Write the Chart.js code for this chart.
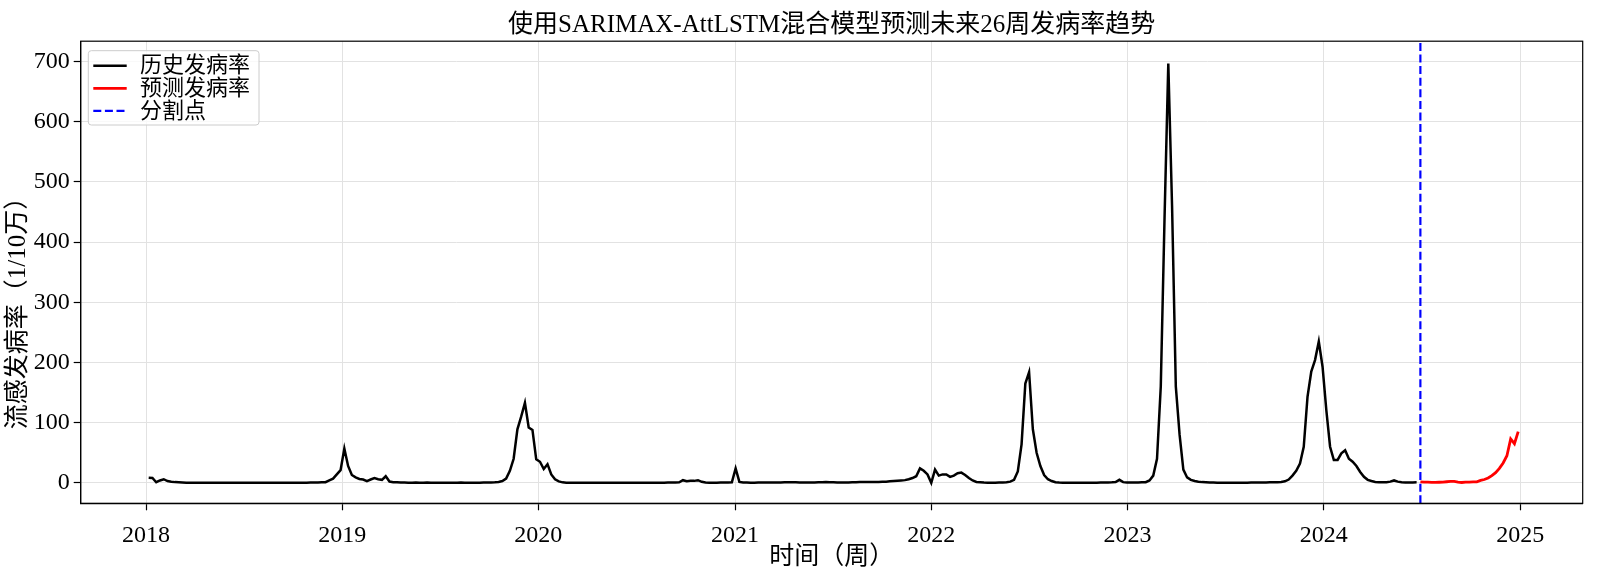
<!DOCTYPE html>
<html><head><meta charset="utf-8">
<script src="https://cdn.jsdelivr.net/npm/chart.js@4.4.0/dist/chart.umd.min.js"></script>
<style>html,body{margin:0;padding:0;background:#fff;}#wrap{width:1600px;height:571px;}</style>
</head><body><div id="wrap"><canvas id="c" width="1600" height="571"></canvas></div>
<script>
// x positions are days after 2018-01-01
const yearTickDays = [0, 365, 730, 1096, 1461, 1826, 2191, 2557];
const yearTickLabels = ['2018', '2019', '2020', '2021', '2022', '2023', '2024', '2025'];
const yTickValues = [0, 100, 200, 300, 400, 500, 600, 700];
const historyStartDay = 5;     // first weekly observation
const forecastStartDay = 2371; // first forecast week (split point)
const splitDay = 2371;
const xAxisMin = -121.5, xAxisMax = 2673;
const yAxisMin = -34, yAxisMax = 734;
const yAxisTitle = '流感发病率（1/10万）';

// weekly historical incidence (1/10万)
const historyRate = [
  8.5, 8, 1, 4, 6, 3, 2, 1.2, 0.8, 0.5,
  0.3, 0.2, 0.2, 0.1, 0.1, 0.1, 0.2, 0.1, 0.1, 0.1,
  0.1, 0.1, 0.1, 0.1, 0.1, 0.1, 0.1, 0.1, 0.1, 0.1,
  0.1, 0.1, 0.1, 0.1, 0.1, 0.1, 0.1, 0.1, 0.1, 0.2,
  0.2, 0.2, 0.3, 0.4, 0.5, 0.6, 0.8, 1, 4, 7,
  14, 21, 57, 28, 13, 9, 6.5, 5.5, 3, 5.5,
  7.8, 6, 5, 11, 2.2, 1, 0.8, 0.5, 0.4, 0.3,
  0.3, 0.5, 0.3, 0.2, 0.6, 0.3, 0.2, 0.2, 0.3, 0.2,
  0.2, 0.2, 0.3, 0.5, 0.3, 0.2, 0.2, 0.3, 0.3, 0.4,
  0.5, 0.7, 1, 1.5, 3, 7, 20, 40, 89, 110,
  133, 92, 88, 39, 35, 23, 31, 14, 6, 2.5,
  0.8, 0.3, 0.2, 0.2, 0.2, 0.1, 0.1, 0.1, 0.1, 0.1,
  0.1, 0.1, 0.1, 0.1, 0.1, 0.1, 0.1, 0.1, 0.1, 0.1,
  0.1, 0.1, 0.2, 0.2, 0.2, 0.2, 0.3, 0.3, 0.4, 0.5,
  0.6, 1, 4.4, 2.8, 3.3, 3.3, 4.4, 1.7, 0.5, 0.3,
  0.3, 0.3, 0.4, 0.5, 0.6, 0.8, 24, 1.5, 0.5, 0.4,
  0.3, 0.3, 0.4, 0.4, 0.5, 0.5, 0.6, 0.7, 0.7, 0.8,
  0.8, 0.9, 0.8, 0.7, 0.7, 0.6, 0.6, 0.7, 0.8, 1,
  1.2, 1, 0.8, 0.6, 0.5, 0.5, 0.6, 0.8, 1, 1.2,
  1.5, 1.3, 1.2, 1.3, 1.5, 1.8, 2, 2.5, 3, 3.5,
  4, 4.5, 6, 8, 11, 24, 20, 14, 0, 22,
  12, 14, 14, 10, 12, 16, 17, 13, 8, 4,
  1.5, 1, 0.5, 0.3, 0.3, 0.3, 0.4, 0.5, 1, 2,
  5, 19, 64, 165, 184, 89, 50, 28, 13, 6,
  3, 1, 0.5, 0.3, 0.3, 0.3, 0.3, 0.3, 0.3, 0.3,
  0.3, 0.3, 0.3, 0.4, 0.5, 0.6, 0.8, 1.2, 5, 1.2,
  0.6, 0.5, 0.5, 0.6, 0.8, 1, 4, 12, 40, 160,
  440, 697, 460, 160, 80, 22, 9, 5, 3, 2,
  1.2, 0.8, 0.5, 0.4, 0.3, 0.3, 0.3, 0.3, 0.3, 0.3,
  0.3, 0.3, 0.3, 0.4, 0.5, 0.5, 0.6, 0.7, 0.8, 1,
  1, 1.5, 2.5, 5.5, 12, 20, 32, 60, 143, 185,
  204, 235, 193, 121, 60, 38, 38, 49, 54, 40,
  35, 28, 18, 10, 5, 3, 1.5, 1, 1, 1,
  2, 4, 2, 1, 0.7, 0.7, 0.7, 0.8
];
// weekly forecast incidence
const forecastRate = [
  1.7, 1.1, 1.2, 0.8, 0.8, 1, 1.2, 1.8, 2.3, 2.3,
  1.2, 0.6, 1.3, 1.2, 1.7, 1.7, 4, 5.5, 8, 12,
  17, 24, 33, 45, 73, 65, 85
];

const SERIF = "'Liberation Serif', 'Noto Sans CJK SC', serif";

const historyPoints = historyRate.map((v, i) => ({x: historyStartDay + 7 * i, y: v}));
const forecastPoints = forecastRate.map((v, i) => ({x: forecastStartDay + 7 * i, y: v}));
const splitPoints = [{x: splitDay, y: yAxisMin}, {x: splitDay, y: yAxisMax}];

const framePlugin = {
  id: 'frameAndLegend',
  afterDraw(chart) {
    const ctx = chart.ctx, a = chart.chartArea;
    ctx.save();
    ctx.strokeStyle = '#000';
    ctx.lineWidth = 1.2;
    ctx.strokeRect(a.left, a.top, a.right - a.left, a.bottom - a.top);
    // y axis title
    ctx.save();
    ctx.translate(18.4, 307);
    ctx.rotate(-Math.PI / 2);
    ctx.font = "25px " + SERIF;
    ctx.fillStyle = '#000';
    ctx.textAlign = 'center';
    ctx.textBaseline = 'middle';
    ctx.fillText(yAxisTitle, 0, 0);
    ctx.restore();
    // legend box (upper left, inside plot)
    const bx = a.left + 7.6, by = a.top + 9.5, bw = 170.7, bh = 74.3;
    ctx.beginPath();
    if (ctx.roundRect) ctx.roundRect(bx, by, bw, bh, 3); else ctx.rect(bx, by, bw, bh);
    ctx.fillStyle = 'rgba(255,255,255,0.8)';
    ctx.fill();
    ctx.strokeStyle = '#cccccc';
    ctx.lineWidth = 1;
    ctx.stroke();
    ctx.font = "22px " + SERIF;
    ctx.textBaseline = 'middle';
    ctx.textAlign = 'left';
    chart.data.datasets.forEach((ds, i) => {
      const cy = by + 16 + i * 22.6;
      ctx.beginPath();
      ctx.strokeStyle = ds.borderColor;
      ctx.lineWidth = ds.borderWidth;
      ctx.setLineDash(ds.borderDash || []);
      ctx.moveTo(bx + 5, cy - 1);
      ctx.lineTo(bx + 38.4, cy - 1);
      ctx.stroke();
      ctx.setLineDash([]);
      ctx.fillStyle = '#000';
      ctx.fillText(ds.label, bx + 51.7, cy);
    });
    ctx.restore();
  }
};

new Chart(document.getElementById('c'), {
  type: 'line',
  data: {
    datasets: [
      {label: '历史发病率', data: historyPoints, borderColor: '#000000', borderWidth: 2.5,
       pointRadius: 0, tension: 0, fill: false},
      {label: '预测发病率', data: forecastPoints, borderColor: '#ff0000', borderWidth: 2.8,
       pointRadius: 0, tension: 0, fill: false},
      {label: '分割点', data: splitPoints, borderColor: '#0000ff', borderWidth: 2.2,
       borderDash: [8, 3.6], pointRadius: 0, fill: false}
    ]
  },
  options: {
    responsive: false,
    animation: false,
    devicePixelRatio: 1,
    layout: {padding: {left: 0, right: 17.3, top: 0, bottom: 0}},
    plugins: {
      legend: {display: false},
      tooltip: {enabled: false},
      title: {
        display: true,
        fullSize: false,
        text: '使用SARIMAX-AttLSTM混合模型预测未来26周发病率趋势',
        color: '#000',
        font: {family: SERIF, size: 25, weight: 'normal', lineHeight: 1.2},
        padding: {top: 10.5, bottom: 0.7}
      }
    },
    scales: {
      x: {
        type: 'linear',
        min: xAxisMin, max: xAxisMax,
        afterFit(scale) { scale.height = 67.7; },
        afterBuildTicks(scale) { scale.ticks = yearTickDays.map(v => ({value: v})); },
        ticks: {
          color: '#000', font: {family: SERIF, size: 24}, padding: 11.5, maxRotation: 0,
          callback(value) { const k = yearTickDays.indexOf(value); return k >= 0 ? yearTickLabels[k] : ''; }
        },
        grid: {color: '#e2e2e2', lineWidth: 1, drawTicks: true, tickLength: 7, tickColor: '#000', tickWidth: 1.2},
        border: {display: true, color: '#000', width: 1.2},
        title: {display: true, text: '时间（周）', color: '#000',
                font: {family: SERIF, size: 25, lineHeight: 1.2}, padding: {top: 0, bottom: -1.5}}
      },
      y: {
        type: 'linear',
        min: yAxisMin, max: yAxisMax,
        afterFit(scale) { scale.width = 80.7; },
        afterBuildTicks(scale) { scale.ticks = yTickValues.map(v => ({value: v})); },
        ticks: {color: '#000', font: {family: SERIF, size: 24}, padding: 4},
        grid: {color: '#e2e2e2', lineWidth: 1, drawTicks: true, tickLength: 7, tickColor: '#000', tickWidth: 1.2},
        border: {display: true, color: '#000', width: 1.2},
        title: {display: false, text: yAxisTitle}
      }
    }
  },
  plugins: [framePlugin]
});
</script>
</body></html>
